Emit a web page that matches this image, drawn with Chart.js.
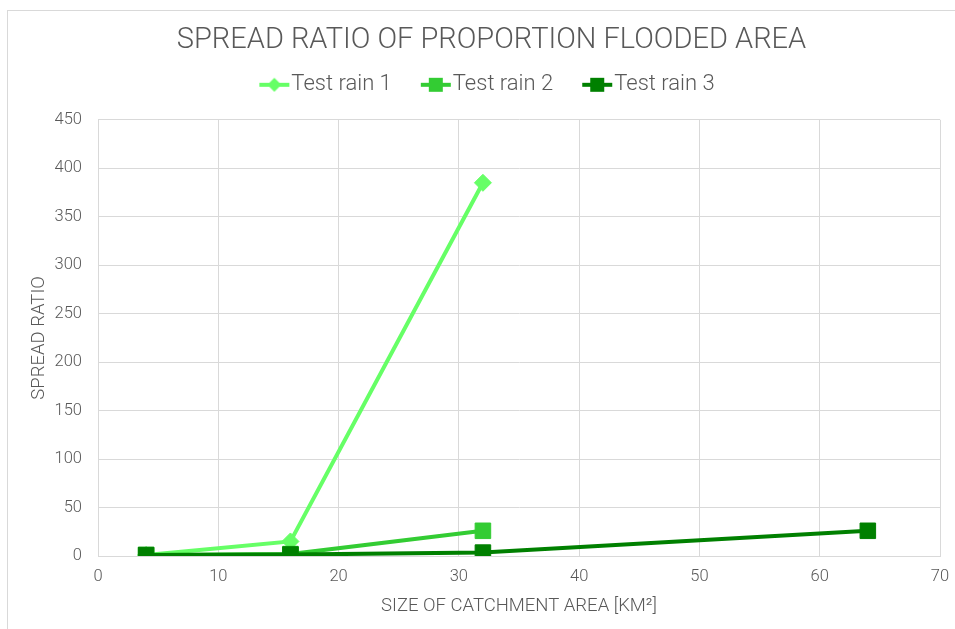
<!DOCTYPE html>
<html>
<head>
<meta charset="utf-8">
<script src="https://cdn.jsdelivr.net/npm/chart.js@4/dist/chart.umd.min.js"></script>
<style>
  html, body { margin: 0; padding: 0; background: #fff; overflow: hidden; }
  #frame { position: absolute; left: 7px; top: 10px; width: 960px; height: 640px; border: 1px solid #d9d9d9; }
  #wrap { position: absolute; left: 0; top: 0; width: 955px; height: 629px; }
</style>
</head>
<body>
<div id="frame"></div>
<div id="wrap"><canvas id="chart"></canvas></div>
<script>
// catchment size [km2] and spread ratio per test rain
const rain1X = [4, 16, 32];
const rain1Y = [1, 15, 385];
const rain2X = [4, 16, 32];
const rain2Y = [1, 2, 26];
const rain3X = [4, 16, 32, 64];
const rain3Y = [1, 1.5, 3.5, 26];

const seriesNames = ['Test rain 1', 'Test rain 2', 'Test rain 3'];
const seriesColors = ['#66FF66', '#33CC33', '#008000'];
const seriesMarkers = ['rectRot', 'rect', 'rect'];

const TEXT = '#595959';
const GRID = '#d9d9d9';
const FONT = 'Roboto';

const toPoints = (xs, ys) => xs.map((x, i) => ({ x, y: ys[i] }));

// legend icon: line with marker on it
function legendIcon(color, marker) {
  const c = document.createElement('canvas');
  c.width = 32; c.height = 16;
  const g = c.getContext('2d');
  g.strokeStyle = color;
  g.lineWidth = 4;
  g.beginPath(); g.moveTo(1, 8); g.lineTo(31, 8); g.stroke();
  g.fillStyle = color;
  if (marker === 'rectRot') {
    g.beginPath(); g.moveTo(16, 1); g.lineTo(23, 8); g.lineTo(16, 15); g.lineTo(9, 8); g.closePath(); g.fill();
  } else {
    g.fillRect(9, 1, 14, 14);
  }
  return c;
}

function makeSet(i, xs, ys, size) {
  return {
    label: seriesNames[i],
    data: toPoints(xs, ys),
    borderColor: seriesColors[i],
    backgroundColor: seriesColors[i],
    borderWidth: 4,
    pointStyle: seriesMarkers[i],
    pointRadius: size,
    pointHoverRadius: size,
    pointBorderWidth: 1,
    showLine: true,
    tension: 0,
    order: 3 - i, // later series drawn on top, like the original
  };
}

new Chart(document.getElementById('chart'), {
  type: 'scatter',
  data: {
    datasets: [
      makeSet(0, rain1X, rain1Y, 8.5),
      makeSet(1, rain2X, rain2Y, 11),
      makeSet(2, rain3X, rain3Y, 11),
    ],
  },
  options: {
    responsive: true,
    maintainAspectRatio: false,
    animation: false,
    layout: { padding: { left: 28, right: 0, top: 10, bottom: 12 } },
    plugins: {
      title: {
        display: true,
        text: 'SPREAD RATIO OF PROPORTION FLOODED AREA',
        color: TEXT,
        font: { family: FONT, size: 29, weight: 300 },
        padding: { top: 13, bottom: -22 },
      },
      // empty spacer between legend and plot
      subtitle: {
        display: true,
        text: ' ',
        weight: 500,
        font: { size: 10, lineHeight: 1 },
        padding: { top: 2, bottom: 2 },
      },
      legend: {
        display: true,
        labels: {
          color: TEXT,
          font: { family: FONT, size: 22, weight: 300 },
          usePointStyle: true,
          pointStyleWidth: 12,
          boxHeight: 16,
          padding: 38,
          generateLabels: (chart) => chart.data.datasets.map((ds, i) => ({
            text: ds.label,
            fontColor: TEXT,
            pointStyle: legendIcon(seriesColors[i], seriesMarkers[i]),
            datasetIndex: i,
            hidden: false,
            lineWidth: 0,
          })),
        },
      },
      tooltip: { enabled: false },
    },
    scales: {
      x: {
        type: 'linear',
        min: 0, max: 70,
        grid: { color: GRID, lineWidth: 1, drawTicks: false },
        border: { color: GRID },
        afterFit: (scale) => { scale.paddingRight = 15; },
        ticks: { stepSize: 10, color: TEXT, padding: 11, font: { family: FONT, size: 16.5, weight: 300 } },
        title: {
          display: true,
          text: 'SIZE OF CATCHMENT AREA [KM²]',
          color: TEXT,
          font: { family: FONT, size: 18.5, weight: 300 },
          padding: { top: -3, bottom: 0 },
        },
      },
      y: {
        min: 0, max: 450,
        grid: { color: GRID, lineWidth: 1, drawTicks: false },
        border: { color: GRID },
        afterFit: (scale) => { scale.width = 70; },
        ticks: { stepSize: 50, color: TEXT, padding: 16, font: { family: FONT, size: 16.5, weight: 300 } },
        title: {
          display: true,
          text: 'SPREAD RATIO',
          color: TEXT,
          font: { family: FONT, size: 18.5, weight: 300 },
          padding: { top: 0, bottom: 0 },
        },
      },
    },
  },
});
</script>
</body>
</html>
